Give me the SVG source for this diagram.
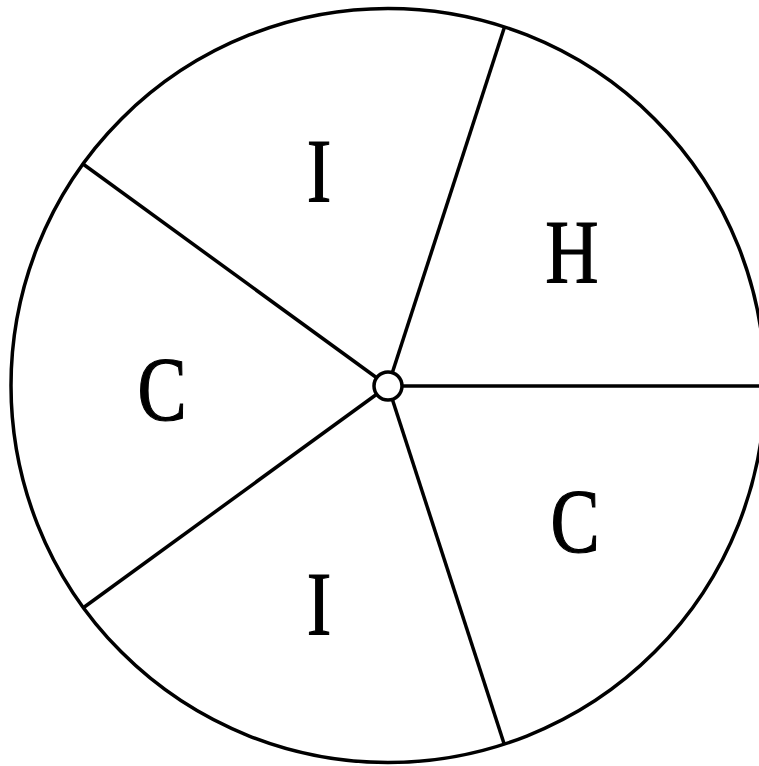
<svg xmlns="http://www.w3.org/2000/svg" width="759" height="766" viewBox="0 0 759 766">
<style>
.ln{stroke:#000;stroke-width:3.5;fill:none}
.lb{font-family:"Liberation Serif",serif;font-size:90px;fill:#000;stroke:#000;stroke-width:1.2;text-anchor:middle}
</style>
<rect width="759" height="766" fill="#fff"/>
<g id="connectors">
<circle class="ln" cx="388" cy="385.5" r="377"/>
<line class="ln" x1="388" y1="386" x2="762" y2="386"/>
<line class="ln" x1="388" y1="386" x2="504.5" y2="27"/>
<line class="ln" x1="388" y1="386" x2="83" y2="164"/>
<line class="ln" x1="388" y1="386" x2="83" y2="608"/>
<line class="ln" x1="388" y1="386" x2="504.5" y2="745"/>
</g>
<g id="center"><circle cx="388" cy="386" r="14" fill="#fff" stroke="#000" stroke-width="3.5"/></g>
<g id="I1"><text class="lb" x="319" y="202" transform="translate(319 0) scale(0.82 1) translate(-319 0)">I</text></g>
<g id="H"><text class="lb" x="572" y="283" transform="translate(572 0) scale(0.82 1) translate(-572 0)">H</text></g>
<g id="C1"><text class="lb" x="162" y="420" transform="translate(162 0) scale(0.82 1) translate(-162 0)">C</text></g>
<g id="C2"><text class="lb" x="575" y="552" transform="translate(575 0) scale(0.82 1) translate(-575 0)">C</text></g>
<g id="I2"><text class="lb" x="319" y="635" transform="translate(319 0) scale(0.82 1) translate(-319 0)">I</text></g>
</svg>
